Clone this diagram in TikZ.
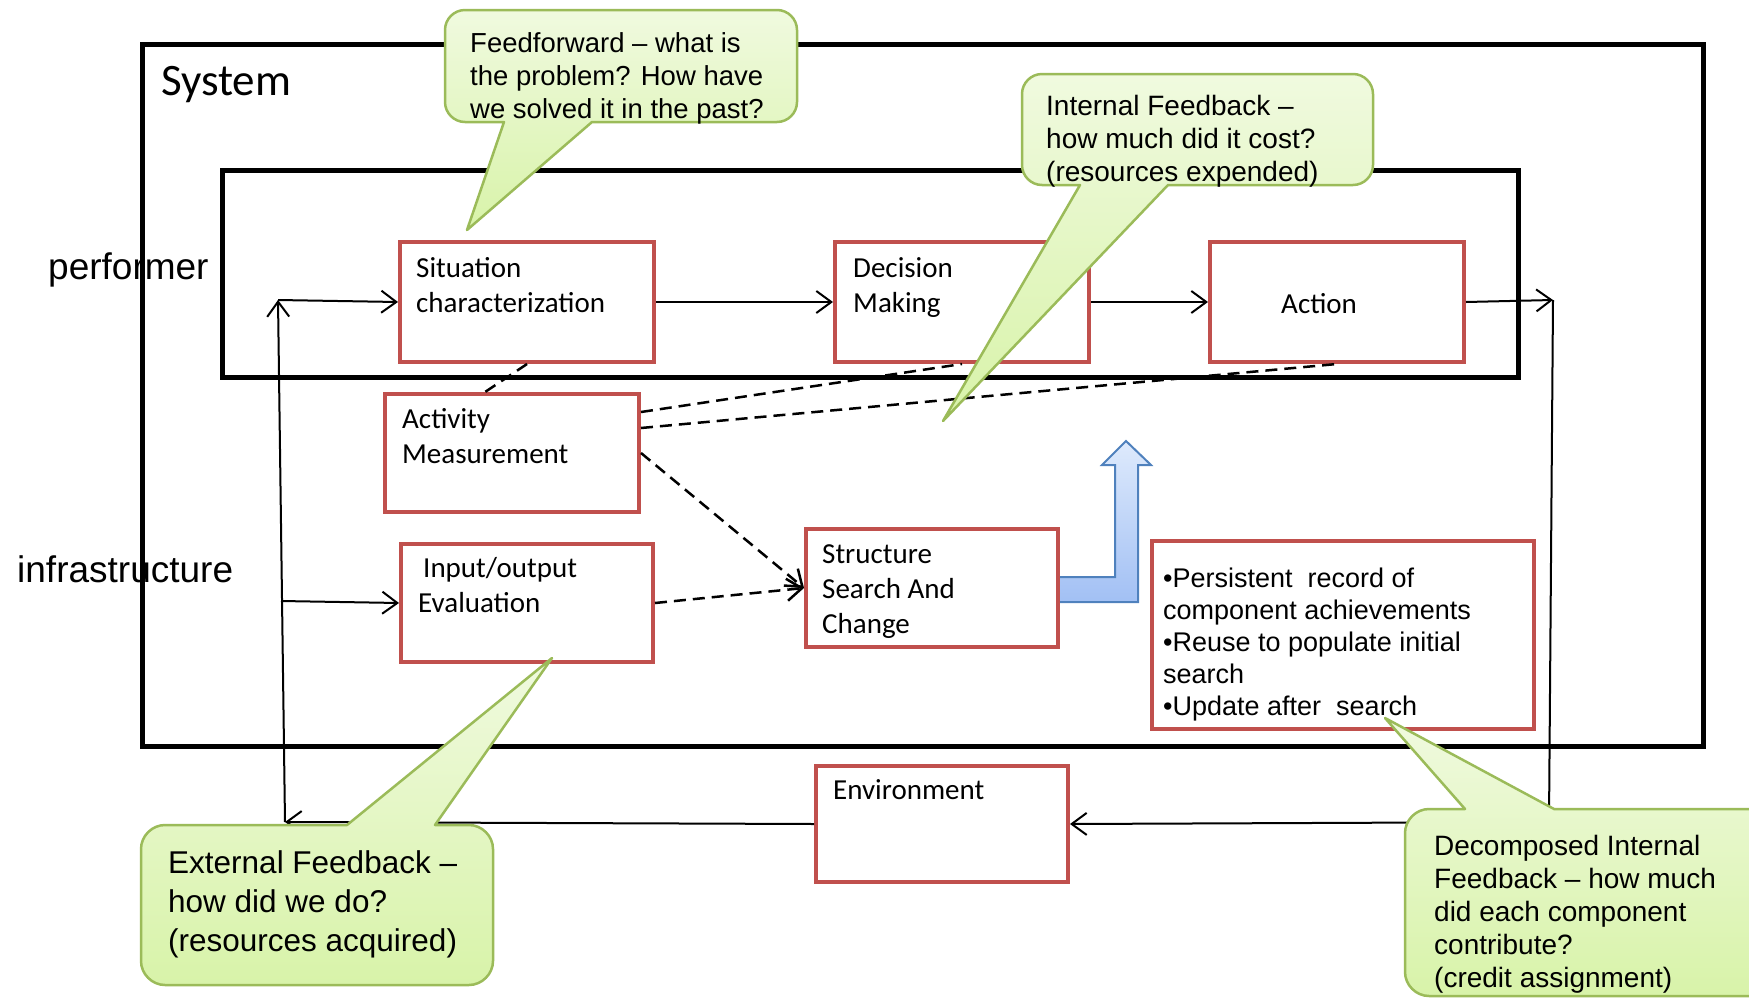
\documentclass[tikz,border=0pt]{standalone}
\usepackage{fontspec}
\newfontfamily\calfont{Carlito}
\newfontfamily\arifont{Liberation Sans}
\usetikzlibrary{arrows.meta,calc}
\definecolor{boxred}{HTML}{C0504D}
\definecolor{bubbleedge}{HTML}{9BBB59}
\definecolor{bubbletop}{HTML}{F0FADF}
\definecolor{bubblebot}{HTML}{D8F3A9}
\definecolor{arrowedge}{HTML}{4F81BD}
\definecolor{arrowtop}{HTML}{DEEAFC}
\definecolor{arrowbot}{HTML}{A2C0F4}
\begin{document}
\begin{tikzpicture}[x=1pt,y=-1pt,
  framebox/.style={draw=black, line width=5pt, inner sep=0pt, anchor=north west},
  redbox/.style={draw=boxred, fill=white, line width=4pt, inner sep=0pt, anchor=north west},
  boxtext/.style={font=\calfont\fontsize{29}{35}\selectfont, anchor=base west, align=left, inner sep=0pt},
  sidelabel/.style={font=\arifont\fontsize{37}{44}\selectfont, anchor=base west, inner sep=0pt},
  calltext/.style={anchor=base west, align=left, inner sep=0pt},
  conn/.style={line width=2pt},
  meas/.style={line width=2.5pt, dash pattern=on 12pt off 7pt},
  arr/.style={-{Straight Barb[length=15pt,width=22pt]}},
  bubble/.style={draw=bubbleedge, line width=2.5pt, line join=round, top color=bubbletop, bottom color=bubblebot},
]
\useasboundingbox (0,0) rectangle (1749,999);

% side labels (the frame lines run across them)
\node[sidelabel] (perf) at (48,279) {performer};
\node[sidelabel] (infra) at (17,582) {infrastructure};

% system and performer frames
\node[framebox, minimum width=1561pt, minimum height=702pt] (sys) at (140,42) {};
\node[font=\calfont\fontsize{45}{54}\selectfont, anchor=base west, inner sep=0pt] (systitle) at (161,95) {System};
\node[framebox, minimum width=1296pt, minimum height=207pt] (perfbox) at (220,168) {};

% bent block arrow leaving the structure search box
\path[draw=arrowedge, line width=2pt, top color=arrowtop, bottom color=arrowbot]
  (1057,577) -- (1115,577) -- (1115,465) -- (1102,465) -- (1126,441) -- (1151,465)
  -- (1138,465) -- (1138,602) -- (1057,602) -- cycle;

% process boxes
\node[redbox, minimum width=254pt, minimum height=120pt] (sit) at (398,240) {};
\node[redbox, minimum width=254pt, minimum height=120pt] (dec) at (833,240) {};
\node[redbox, minimum width=254pt, minimum height=120pt] (act) at (1208,240) {};
\node[redbox, minimum width=254pt, minimum height=118pt] (actm) at (383,392) {};
\node[redbox, minimum width=252pt, minimum height=118pt] (io) at (399,542) {};
\node[redbox, minimum width=252pt, minimum height=118pt] (ssc) at (804,527) {};
\node[redbox, minimum width=382pt, minimum height=188pt] (bul) at (1150,539) {};
\node[redbox, minimum width=252pt, minimum height=116pt] (env) at (814,764) {};

% box texts (multi-line nodes sit on the baseline of their last line)
\node[boxtext] (sitT) at (416,312) {Situation\\characterization};
\node[boxtext] (decT) at (853,312) {Decision\\Making};
\node[boxtext] (actT) at (1281,313) {Action};
\node[boxtext] (actmT) at (402,463) {Activity\\Measurement};
\node[boxtext] (ioT) at (418,612) {\hspace*{5pt}Input/output\\Evaluation};
\node[boxtext] (sscT) at (822,633) {Structure\\Search And\\Change};
\node[boxtext] (envT) at (833,799) {Environment};
\node[calltext, font=\arifont\fontsize{27}{32}\selectfont] (bulT) at (1163,715)
  {•Persistent\ \ record of\\component achievements\\•Reuse to populate initial\\search\\•Update after\ \ search};

% loop corners
\coordinate (r1) at (1553,300);
\coordinate (r2) at (1549,822);
\coordinate (l1) at (285,822);
\coordinate (l2) at (278,300);
\coordinate (l3) at (281,601);

% main flow
\draw[conn,arr] (sit.east) -- (dec.west);
\draw[conn,arr] (dec.east) -- (act.west);
\draw[conn,arr] (act.east) -- (r1);
\draw[conn,arr] (r1) -- (r2) -- (env.east);
\draw[conn,arr] (env.west) -- (l1);
\draw[conn,arr] (l1) -- (l2);
\draw[conn,arr] (l2) -- (sit.west);
\draw[conn,arr] (l3) -- (io.west);

% measurement links
\draw[meas] (sit.south) -- ($(actm.north west)+(102,0)$);
\draw[meas] ($(actm.east)+(0,-41)$) -- (dec.south);
\draw[meas] ($(actm.east)+(0,-25)$) -- (act.south);
\draw[meas,arr] (actm.east) -- (ssc.west);
\draw[meas,arr] (io.east) -- (ssc.west);

% callouts
\path[bubble] (504,122) -- (465,122) .. controls (454,122) and (445,113) .. (445,102)
  -- (445,30) .. controls (445,19) and (454,10) .. (465,10)
  -- (777,10) .. controls (788,10) and (797,19) .. (797,30)
  -- (797,102) .. controls (797,113) and (788,122) .. (777,122)
  -- (592,122) -- (467,230) -- cycle;
\node[calltext, font=\arifont\fontsize{27.5}{33}\selectfont] (ffT) at (470,118)
  {Feedforward – what is\\the problem? How have\\we solved it in the past?};

\path[bubble] (1080,185) -- (1042,185) .. controls (1031,185) and (1022,176) .. (1022,165)
  -- (1022,94) .. controls (1022,83) and (1031,74) .. (1042,74)
  -- (1353,74) .. controls (1364,74) and (1373,83) .. (1373,94)
  -- (1373,165) .. controls (1373,176) and (1364,185) .. (1353,185)
  -- (1168,185) -- (943,421) -- cycle;
\node[calltext, font=\arifont\fontsize{28}{33}\selectfont] (ifT) at (1046,181)
  {Internal Feedback –\\how much did it cost?\\(resources expended)};

\path[bubble] (347,825) -- (165,825) .. controls (152,825) and (141,836) .. (141,849)
  -- (141,961) .. controls (141,974) and (152,985) .. (165,985)
  -- (469,985) .. controls (482,985) and (493,974) .. (493,961)
  -- (493,849) .. controls (493,836) and (482,825) .. (469,825)
  -- (435,825) -- (552,658) -- cycle;
\node[calltext, font=\arifont\fontsize{31.5}{39}\selectfont] (efT) at (168,951)
  {External Feedback –\\how did we do?\\(resources acquired)};

\path[bubble] (1554,809) -- (1751,809) .. controls (1764,809) and (1775,820) .. (1775,833)
  -- (1775,972) .. controls (1775,985) and (1764,996) .. (1751,996)
  -- (1429,996) .. controls (1416,996) and (1405,985) .. (1405,972)
  -- (1405,833) .. controls (1405,820) and (1416,809) .. (1429,809)
  -- (1465,809) -- (1385,718) -- cycle;
\node[calltext, font=\arifont\fontsize{28}{33}\selectfont] (dfT) at (1434,987)
  {Decomposed Internal\\Feedback – how much\\did each component\\contribute?\\(credit assignment)};
\end{tikzpicture}
\end{document}
